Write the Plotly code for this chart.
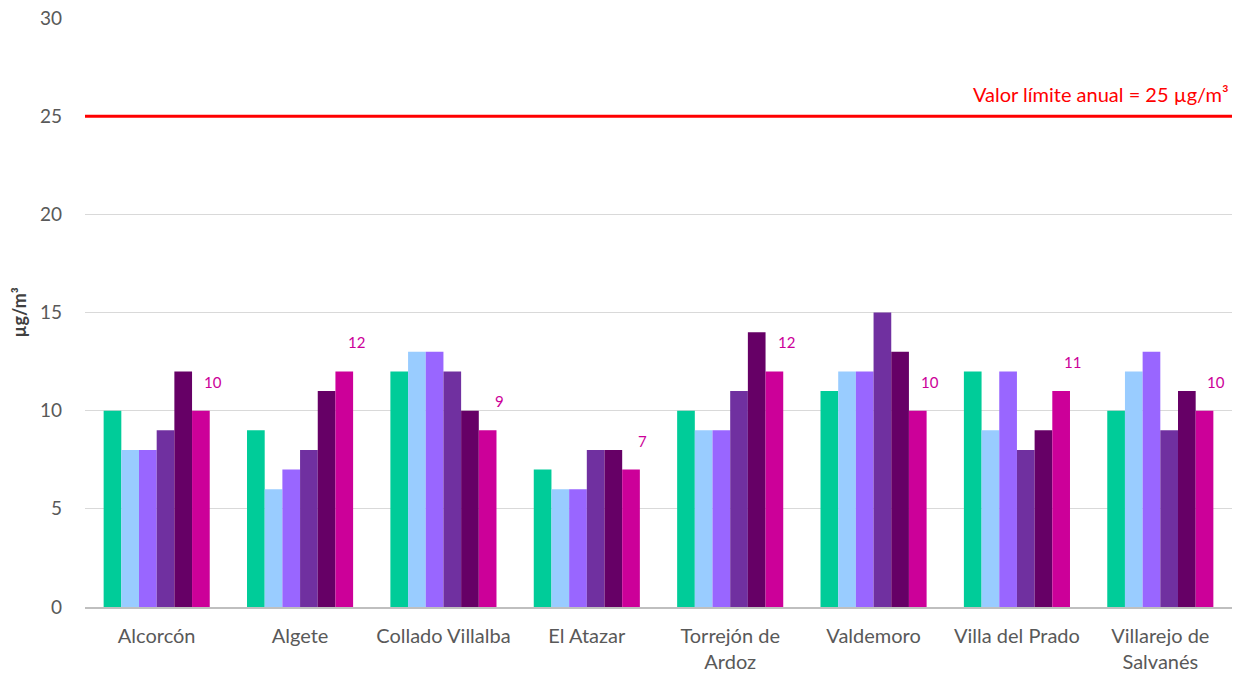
import plotly.graph_objects as go

categories = ["Alcorcón", "Algete", "Collado Villalba", "El Atazar",
              "Torrejón de<br>Ardoz", "Valdemoro", "Villa del Prado", "Villarejo de<br>Salvanés"]
series_names = ["S1", "S2", "S3", "S4", "S5", "S6"]
s1 = [10, 9, 12, 7, 10, 11, 12, 10]
s2 = [8, 6, 13, 6, 9, 12, 9, 12]
s3 = [8, 7, 13, 6, 9, 12, 12, 13]
s4 = [9, 8, 12, 8, 11, 15, 8, 9]
s5 = [12, 11, 10, 8, 14, 13, 9, 11]
s6 = [10, 12, 9, 7, 12, 10, 11, 10]
colors = ["#00CC99", "#99CCFF", "#9966FF", "#7030A0", "#660066", "#CC0099"]
limit_value = 25
limit_label = "Valor límite anual = 25 µg/m³"
y_title = "µg/m³"

font_family = "Lato, 'Open Sans', sans-serif"

fig = go.Figure()
for name, vals, col in zip(series_names, [s1, s2, s3, s4, s5, s6], colors):
    fig.add_trace(go.Bar(x=categories, y=vals, name=name, marker_color=col,
                         marker_line_width=0))

# data labels for last series
for cat, v in zip(categories, s6):
    fig.add_annotation(x=cat, y=v, text=str(v), showarrow=False,
                       xshift=56, yshift=18, yanchor="bottom",
                       font=dict(color="#CC0099", size=15, family=font_family))

fig.add_shape(type="line", xref="paper", x0=0, x1=1, yref="y",
              y0=limit_value, y1=limit_value, line=dict(color="#FF0000", width=3))
fig.add_annotation(xref="paper", x=1, y=limit_value, yref="y", text=limit_label,
                   showarrow=False, xanchor="right", yanchor="bottom", yshift=8, xshift=-1,
                   font=dict(color="#FF0000", size=20, family=font_family))

fig.add_annotation(xref="paper", yref="paper", x=0, y=0.5, xshift=-67,
                   xanchor="center", yanchor="middle",
                   text="<b>" + y_title + "</b>", textangle=-90, showarrow=False,
                   font=dict(size=18, color="#404040", family=font_family))

fig.update_layout(
    width=1235, height=674,
    margin=dict(l=85, r=3, t=18, b=67),
    plot_bgcolor="white", paper_bgcolor="white",
    barmode="group", bargap=0.26, bargroupgap=0,
    showlegend=False,
    font=dict(family=font_family, size=19, color="#595959"),
)
fig.update_yaxes(range=[0, 30], dtick=5, showgrid=True, gridcolor="#D9D9D9",
                 gridwidth=1, zeroline=False, showline=False, automargin=False,
                 ticks="", ticklabelstandoff=22, tickfont=dict(size=19, color="#595959"))
fig.update_xaxes(showline=True, linecolor="#BFBFBF", linewidth=1.5, ticks="",
                 automargin=False, ticklabelstandoff=10,
                 showgrid=False, tickfont=dict(size=20, color="#595959"))

fig.write_html("out.html", config={"displayModeBar": False},
               post_script="document.body.style.margin='0px';")
